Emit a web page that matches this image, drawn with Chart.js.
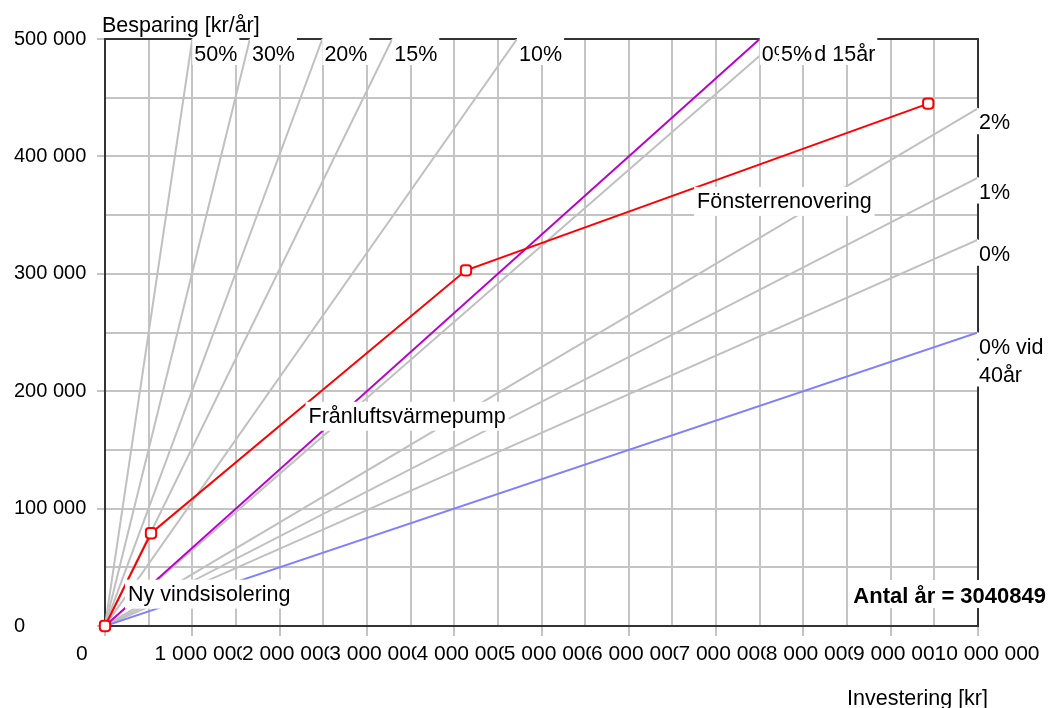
<!DOCTYPE html>
<html>
<head>
<meta charset="utf-8">
<script src="https://cdn.jsdelivr.net/npm/chart.js@4.4.1/dist/chart.umd.min.js"></script>
<style>
  html, body { margin: 0; padding: 0; background: #fff; }
  canvas { display: block; }
</style>
</head>
<body>
<canvas id="c" width="1049" height="708"></canvas>
<script>
// ---------- data ----------
const xTickValues = [0, 1000000, 2000000, 3000000, 4000000, 5000000, 6000000, 7000000, 8000000, 9000000, 10000000];
const xTickLabels = ['0', '1 000 000', '2 000 000', '3 000 000', '4 000 000', '5 000 000', '6 000 000', '7 000 000', '8 000 000', '9 000 000', '10 000 000'];
const yTickValues = [0, 100000, 200000, 300000, 400000, 500000];
const yTickLabels = ['0', '100 000', '200 000', '300 000', '400 000', '500 000'];

// interest-rate reference lines (from origin to the edge of the plot)
const rateLabels = ['50%', '30%', '20%', '15%', '10%', '5%', '2%', '1%', '0%'];
const rateEndX  = [1000000, 1660000, 2490000, 3290000, 4720000, 7720000, 10000000, 10000000, 10000000];
const rateEndY  = [500000, 500000, 500000, 500000, 500000, 500000, 441000, 382000, 329000];

// 0 % lines for other lifetimes
const life15Label = '0% vid 15år';
const life15End = [7500000, 500000];
const life40Label = ['0% vid', '40år'];
const life40End = [10000000, 250000];

// cumulative measures
const measureNames = ['Ny vindsisolering', 'Frånluftsvärmepump', 'Fönsterrenovering'];
const cumInvest = [0, 527000, 4135000, 9430000];
const cumSaving = [0, 79000, 303000, 445000];

const yearsText = 'Antal år = 3040849';
const yTitle = 'Besparing [kr/år]';
const xTitle = 'Investering [kr]';

// ---------- styling ----------
const FONT = "'Liberation Sans', Arial, sans-serif";
const GRID = '#c4c4c4';
const AXIS = '#333333';
const GRAYLINE = '#c0c0c0';

const redPoints = cumInvest.map((v, i) => ({ x: v, y: cumSaving[i] }));
const datasets = [
  {
    data: redPoints, showLine: true, borderColor: '#ff0000', borderWidth: 2,
    pointStyle: 'rectRounded', pointRadius: 6, pointBorderWidth: 2,
    pointBackgroundColor: '#ffffff', pointBorderColor: '#ff0000', clip: false
  },
  {
    data: [{ x: 0, y: 0 }, { x: life15End[0], y: life15End[1] }], showLine: true,
    borderColor: '#bb00cc', borderWidth: 2, pointRadius: 0
  },
  {
    data: [{ x: 0, y: 0 }, { x: life40End[0], y: life40End[1] }], showLine: true,
    borderColor: '#8080ff', borderWidth: 2, pointRadius: 0
  }
];
rateLabels.forEach((lab, i) => {
  datasets.push({
    data: [{ x: 0, y: 0 }, { x: rateEndX[i], y: rateEndY[i] }], showLine: true,
    borderColor: GRAYLINE, borderWidth: 2, pointRadius: 0
  });
});

function isLabeled(values, v) {
  return values.some(t => Math.abs(t - v) < 1);
}

function boxLabel(ctx, lines, x, y, opts) {
  const o = Object.assign({ lineH: 28, boxH: 26, base: 21, pad: 1 }, opts || {});
  lines.forEach((line, i) => {
    const w = ctx.measureText(line).width;
    const top = y + i * o.lineH;
    ctx.fillStyle = '#ffffff';
    ctx.fillRect(x - o.pad, top, w + 2 * o.pad + 2, o.boxH);
    ctx.fillStyle = '#000000';
    ctx.fillText(line, x + 1, top + o.base);
  });
}

const overlay = {
  id: 'overlay',
  beforeDraw(chart) {
    const { ctx, width, height } = chart;
    ctx.save();
    ctx.fillStyle = '#ffffff';
    ctx.fillRect(0, 0, width, height);
    ctx.restore();
  },
  beforeDatasetsDraw(chart) {
    const { ctx, chartArea: a } = chart;
    ctx.save();
    // top and right frame
    ctx.strokeStyle = AXIS;
    ctx.lineWidth = 2;
    ctx.beginPath();
    ctx.moveTo(a.left, a.top);
    ctx.lineTo(a.right, a.top);
    ctx.lineTo(a.right, a.bottom);
    ctx.stroke();
    ctx.restore();
  },
  afterDatasetsDraw(chart) {
    const { ctx, chartArea: a, scales: { x, y } } = chart;
    ctx.save();
    ctx.font = '21.5px ' + FONT;
    ctx.textBaseline = 'alphabetic';
    ctx.textAlign = 'left';

    const endLabel = (lines, ex, ey) => {
      const px = x.getPixelForValue(ex);
      const py = y.getPixelForValue(ey);
      if (ey >= y.max - 1) {
        boxLabel(ctx, lines, px + 1, a.top - 1, { base: 23, boxH: 27 });
      } else {
        boxLabel(ctx, lines, a.right, py, { base: 21 });
      }
    };
    endLabel([life15Label], life15End[0], life15End[1]);
    endLabel(life40Label, life40End[0], life40End[1]);
    rateLabels.forEach((lab, i) => endLabel([lab], rateEndX[i], rateEndY[i]));

    // measure labels at segment midpoints
    measureNames.forEach((name, i) => {
      const mx = (x.getPixelForValue(cumInvest[i]) + x.getPixelForValue(cumInvest[i + 1])) / 2;
      const my = (y.getPixelForValue(cumSaving[i]) + y.getPixelForValue(cumSaving[i + 1])) / 2;
      boxLabel(ctx, [name], mx - 1, my, { base: 21, boxH: 29, pad: 2 });
    });

    // years text
    ctx.font = 'bold 22px ' + FONT;
    const tw = ctx.measureText(yearsText).width;
    const tx = 1046 - tw;
    ctx.fillStyle = '#ffffff';
    ctx.fillRect(tx - 3, a.bottom - 46, tw + 6, 28);
    ctx.fillStyle = '#000000';
    ctx.fillText(yearsText, tx, a.bottom - 23);

    // axis titles
    ctx.font = '21.5px ' + FONT;
    ctx.fillText(yTitle, 102, 32);
    ctx.fillText(xTitle, 847, 705);
    ctx.restore();
  }
};

new Chart(document.getElementById('c'), {
  type: 'scatter',
  data: { datasets },
  plugins: [overlay],
  options: {
    responsive: false,
    devicePixelRatio: 1,
    animation: false,
    events: [],
    layout: { padding: { left: 14, top: 39, right: 71, bottom: 0 } },
    plugins: { legend: { display: false }, tooltip: { enabled: false } },
    scales: {
      x: {
        type: 'linear', position: 'bottom', min: 0, max: 10000000,
        afterFit: s => { s.height = 82; },
        grid: {
          color: GRID, lineWidth: 2, tickLength: 10,
          tickColor: c => (c.tick && isLabeled(xTickValues, c.tick.value)) ? GRID : 'rgba(0,0,0,0)'
        },
        border: { color: AXIS, width: 2 },
        ticks: {
          stepSize: 500000, maxTicksLimit: 100, autoSkip: false, maxRotation: 0, minRotation: 0,
          color: '#000', padding: 6, font: { family: FONT, size: 21 },
          labelOffset: 9,
          showLabelBackdrop: true,
          backdropColor: c => (c.tick && isLabeled(xTickValues, c.tick.value)) ? '#ffffff' : 'rgba(0,0,0,0)',
          backdropPadding: 0,
          callback: v => {
            const i = xTickValues.findIndex(t => Math.abs(t - v) < 1);
            if (i < 0) return '';
            return i === 0 ? xTickLabels[0] + '           ' : xTickLabels[i];
          }
        }
      },
      y: {
        type: 'linear', position: 'left', min: 0, max: 500000,
        afterFit: s => { s.width = 91; },
        grid: {
          color: GRID, lineWidth: 2, tickLength: 8,
          tickColor: c => (c.tick && isLabeled(yTickValues, c.tick.value)) ? GRID : 'rgba(0,0,0,0)'
        },
        border: { color: AXIS, width: 2 },
        ticks: {
          stepSize: 50000, maxTicksLimit: 100, autoSkip: false,
          crossAlign: 'far', color: '#000', padding: 4, font: { family: FONT, size: 20 },
          callback: v => {
            const i = yTickValues.findIndex(t => Math.abs(t - v) < 1);
            return i < 0 ? '' : yTickLabels[i];
          }
        }
      }
    }
  }
});
</script>
</body>
</html>
